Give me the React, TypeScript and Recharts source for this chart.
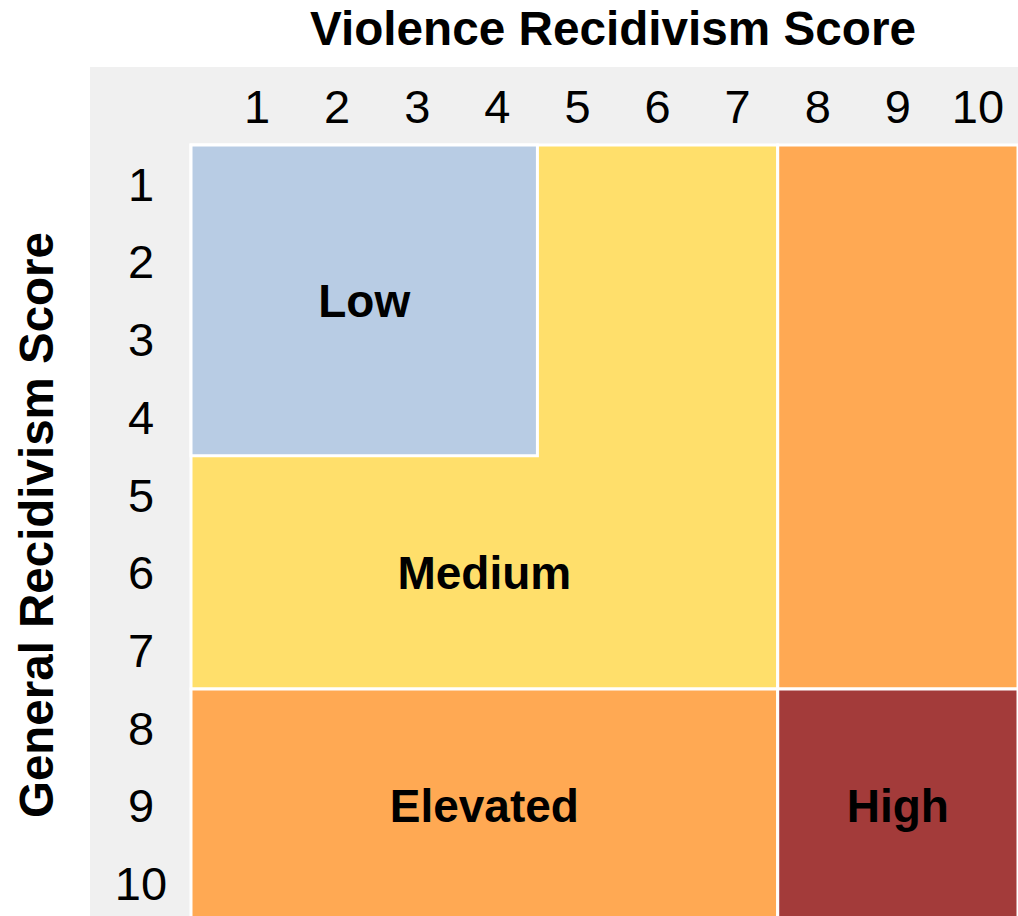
import React from 'react';
import { ScatterChart, Scatter, XAxis, YAxis, ReferenceArea } from 'recharts';

// score scale shared by both axes
const scores = [1, 2, 3, 4, 5, 6, 7, 8, 9, 10];

// filled zones, drawn in order (Low sits on top of Medium)
const riskZones = [
  { level: 'Medium', violence: [1, 7], general: [1, 7] },
  { level: 'Low', violence: [1, 4], general: [1, 4] },
  { level: 'Elevated', violence: [8, 10], general: [1, 7] },
  { level: 'Elevated', violence: [1, 7], general: [8, 10] },
  { level: 'High', violence: [8, 10], general: [8, 10] },
];

// where each level name is written
const levelLabels = [
  { level: 'Low', violence: [1, 4], general: [1, 4] },
  { level: 'Medium', violence: [1, 7], general: [5, 7] },
  { level: 'Elevated', violence: [1, 7], general: [8, 10] },
  { level: 'High', violence: [8, 10], general: [8, 10] },
];

const levelColors: Record<string, string> = {
  Low: '#b8cce4',
  Medium: '#ffdf6b',
  Elevated: '#ffa953',
  High: '#a33b3a',
};

const FONT = '"Liberation Sans", Arial, Helvetica, sans-serif';

// first / last score run out to the plot edge
const lo = (s: number) => (s === scores[0] ? undefined : s - 0.5);
const hi = (s: number) => (s === scores[scores.length - 1] ? undefined : s + 0.5);

const XTick = (props: any) => (
  <text x={props.x} y={props.y} textAnchor="middle" fontSize={47} fontFamily={FONT} fill="#000">
    {props.payload.value}
  </text>
);

const YTick = (props: any) => (
  <text x={props.x} y={props.y} dy="0.36em" textAnchor="middle" fontSize={47} fontFamily={FONT} fill="#000">
    {props.payload.value}
  </text>
);

const XTitle = () => (
  <text
    x={613}
    y={45}
    textAnchor="middle"
    fontSize={48}
    fontWeight="bold"
    fontFamily={FONT}
    textLength={606}
    lengthAdjust="spacingAndGlyphs"
    fill="#000"
  >
    Violence Recidivism Score
  </text>
);

const YTitle = () => (
  <text
    x={53}
    y={525}
    transform="rotate(-90, 53, 525)"
    textAnchor="middle"
    fontSize={48}
    fontWeight="bold"
    fontFamily={FONT}
    textLength={586}
    lengthAdjust="spacingAndGlyphs"
    fill="#000"
  >
    General Recidivism Score
  </text>
);

export default function App() {
  return (
    <div
      style={{
        position: 'absolute',
        left: 0,
        top: 0,
        width: 1018,
        height: 916,
        overflow: 'hidden',
        background: '#fff',
      }}
    >
      <div style={{ position: 'absolute', left: 90, top: 67, right: 0, bottom: 0, background: '#f0f0f0' }} />
      <div style={{ position: 'absolute', left: 0, top: 0 }}>
        <ScatterChart width={1018} height={922} margin={{ top: 0, right: 0, bottom: 0, left: 0 }}>
          <XAxis
            type="number"
            dataKey="v"
            orientation="top"
            domain={[0.175, 10.5]}
            ticks={scores}
            interval={0}
            allowDataOverflow
            height={145}
            axisLine={false}
            tickLine={false}
            tickSize={0}
            tickMargin={22}
            tick={<XTick />}
            label={<XTitle />}
          />
          <YAxis
            type="number"
            dataKey="g"
            reversed
            domain={[0.5, 10.5]}
            ticks={scores}
            interval={0}
            allowDataOverflow
            width={191}
            axisLine={false}
            tickLine={false}
            tickSize={0}
            tickMargin={50}
            tick={<YTick />}
            label={<YTitle />}
          />
          {riskZones.map((z, i) => (
            <ReferenceArea
              key={'zone' + i}
              x1={lo(z.violence[0])}
              x2={hi(z.violence[1])}
              y1={lo(z.general[0])}
              y2={hi(z.general[1])}
              fill={levelColors[z.level]}
              fillOpacity={1}
              stroke="#fff"
              strokeWidth={3}
              ifOverflow="visible"
            />
          ))}
          {levelLabels.map((l) => (
            <ReferenceArea
              key={'label' + l.level}
              x1={lo(l.violence[0])}
              x2={hi(l.violence[1])}
              y1={lo(l.general[0])}
              y2={hi(l.general[1])}
              fill="none"
              fillOpacity={0}
              stroke="none"
              ifOverflow="visible"
              label={{
                value: l.level,
                position: 'center',
                fill: '#000',
                fontSize: 46,
                fontWeight: 'bold',
                fontFamily: FONT,
              }}
            />
          ))}
          <Scatter data={[]} isAnimationActive={false} />
        </ScatterChart>
      </div>
    </div>
  );
}
